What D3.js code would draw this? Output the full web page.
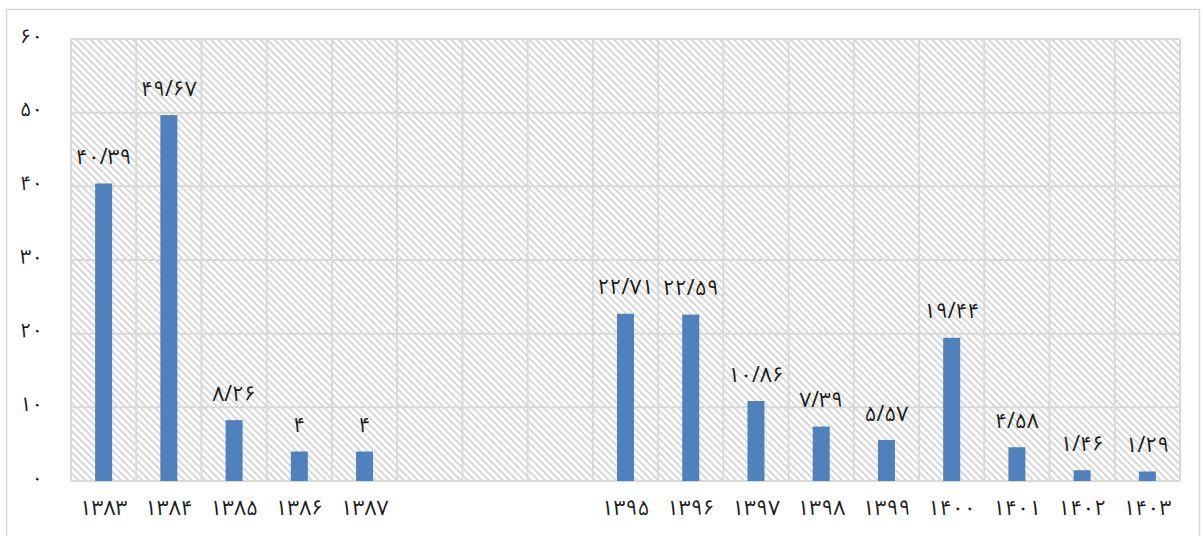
<!DOCTYPE html>
<html><head><meta charset="utf-8">
<script src="https://cdn.jsdelivr.net/npm/d3@7"></script>
<style>body{margin:0;background:#fff}svg{display:block}</style>
</head><body>
<svg id="c" width="1201" height="536"></svg>
<script>
const categories = ["1383","1384","1385","1386","1387","","","","1395","1396","1397","1398","1399","1400","1401","1402","1403"];
const values = [40.39,49.67,8.26,4,4,null,null,null,22.71,22.59,10.86,7.39,5.57,19.44,4.58,1.46,1.29];
const yTicks = [0,10,20,30,40,50,60];

const fa = s => String(s).replace(/[0-9]/g, d => "۰۱۲۳۴۵۶۷۸۹"[+d]).replace(/\./g, "/");
const font = "'Noto Sans Arabic', 'DejaVu Sans', sans-serif";

const svg = d3.select("#c");
const m = {l:71, r:1180, t:39, b:481};

svg.append("rect").attr("x",6.5).attr("y",9.5).attr("width",1193).attr("height",540)
  .attr("fill","none").attr("stroke","#d9d9d9").attr("stroke-width",1.5);

const defs = svg.append("defs");
const pat = defs.append("pattern").attr("id","hatch").attr("patternUnits","userSpaceOnUse")
  .attr("width",5).attr("height",5).attr("patternTransform","rotate(-45)");
pat.append("line").attr("x1",1).attr("y1",0).attr("x2",1).attr("y2",5)
  .attr("stroke","#d0d0d0").attr("stroke-width",1.7);

const x = d3.scaleBand().domain(d3.range(categories.length)).range([m.l,m.r]).paddingInner(0).paddingOuter(0);
const y = d3.scaleLinear().domain([0,60]).range([m.b,m.t]);

svg.append("rect").attr("x",m.l).attr("y",m.t).attr("width",m.r-m.l).attr("height",m.b-m.t).attr("fill","url(#hatch)");

const g = svg.append("g");
g.selectAll("line.h").data(yTicks).join("line")
  .attr("x1",m.l).attr("x2",m.r).attr("y1",d=>y(d)).attr("y2",d=>y(d))
  .attr("stroke","#d9d9d9").attr("stroke-width",2);
const vb = d3.range(categories.length+1).map(i => m.l + i*x.bandwidth());
g.selectAll("line.v").data(vb).join("line")
  .attr("x1",d=>d).attr("x2",d=>d).attr("y1",m.t).attr("y2",m.b)
  .attr("stroke","#d9d9d9").attr("stroke-width",2);

const ya = svg.append("g").attr("transform",`translate(43,0)`)
  .call(d3.axisLeft(y).tickValues(yTicks).tickSize(0).tickFormat(d=>fa(d)));
ya.select(".domain").remove();
ya.selectAll("text").attr("font-family",font).attr("font-size",20)
  .attr("fill","#1a1a1a").attr("x",0).attr("dy","0.15em");

const xa = svg.append("g").attr("transform",`translate(0,${m.b})`)
  .call(d3.axisBottom(x).tickSize(0).tickFormat(i=>fa(categories[i])));
xa.select(".domain").remove();
xa.selectAll("text").attr("font-family",font).attr("font-size",21)
  .attr("fill","#1a1a1a").attr("dy",0).attr("y",34);

const bw = 17;
const data = values.map((v,i)=>({i,v})).filter(d=>d.v!==null);
svg.selectAll("rect.bar").data(data).join("rect").attr("class","bar")
  .attr("x",d=>x(d.i)+x.bandwidth()/2-bw/2).attr("width",bw)
  .attr("y",d=>y(d.v)).attr("height",d=>y(0)-y(d.v)).attr("fill","#4f81bd");

svg.selectAll("text.lbl").data(data).join("text").attr("class","lbl")
  .attr("x",d=>x(d.i)+x.bandwidth()/2).attr("y",d=>y(d.v)-25)
  .attr("text-anchor","middle").attr("dominant-baseline","middle")
  .attr("font-family",font).attr("font-size",21).attr("fill","#1a1a1a")
  .text(d=>fa(d.v));
</script>
</body></html>
